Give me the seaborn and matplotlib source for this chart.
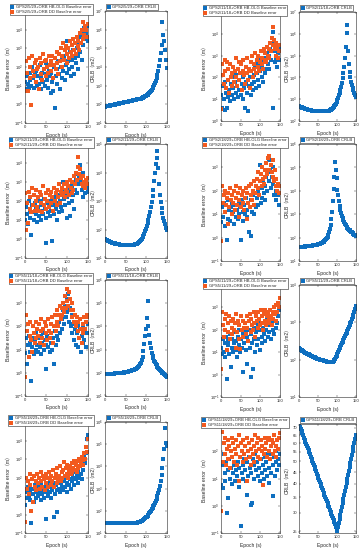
import numpy as np
import matplotlib
matplotlib.use('Agg')
import matplotlib.pyplot as plt
import seaborn as sns
from matplotlib.ticker import LogLocator, NullLocator, FixedLocator, FixedFormatter

# epochs (s), one value every 2 s
epochs = np.arange(1, 150, 2)

combos = ['GPS2/5/29', 'GPS2/11/18', 'GPS2/11/29', 'GPS2/18/29',
          'GPS5/11/18', 'GPS5/11/29', 'GPS5/18/29', 'GPS11/18/29']

# log10 of baseline error (m), HB-OLG and DD
p1_hb = [1.2, 0.8, 1.5, 1.1, 0.9, 1.7, 1.3, 1.0, 2.0, 1.4, 0.9, 1.6, 1.2, 1.8, 1.0,
         1.5, 1.1, 2.1, 0.8, 1.4, 1.7, 1.2, 1.9, 1.0, 1.6, 2.2, 1.3, 0.9, 1.8, 1.5,
         0.6, 1.7, 1.2, 0.7, 2.0, -0.2, 1.5, 1.9, 1.1, 2.3, 1.6, 0.8, 2.0, 1.4, 2.4,
         1.8, 2.6, 1.3, 2.1, 3.4, 1.7, 2.3, 1.9, 2.8, 1.5, 2.4, 2.0, 2.9, 1.6, 2.5,
         2.2, 3.0, 2.6, 1.9, 3.3, 2.8, 3.6, 2.4, 3.9, 3.2, 4.1, 3.5, 3.8, 4.2, 3.4]
p1_dd = [0.7, 2.3, 1.7, 0.7, 2.5, 1.4, 2.0, -0.05, 2.6, 1.8, 1.5, 2.2, 1.2, 2.4, 1.9,
         2.0, 0.8, 2.5, 1.6, 2.2, 1.3, 2.7, 1.9, 2.3, 1.5, 2.4, 2.0, 1.7, 2.6, 2.1,
         2.3, 1.8, 2.6, 1.4, 2.1, 2.5, 1.9, 2.8, 2.2, 1.6, 2.7, 2.3, 3.0, 2.0, 2.6,
         3.3, 2.4, 2.9, 3.1, 2.2, 2.7, 3.0, 2.5, 3.4, 2.8, 3.2, 2.6, 3.5, 2.9, 3.3,
         2.7, 3.6, 3.1, 3.4, 2.9, 3.8, 3.3, 4.0, 3.5, 4.4, 3.7, 4.2, 4.0, 3.6, 4.3]
p2_hb = [1.2, 0.6, 1.6, 1.0, 0.5, 1.8, 1.3, 0.6, 1.1, 1.9, 1.4, 0.9, 1.7, 1.2, 2.0,
         1.5, 1.0, 1.8, 1.3, 2.1, 1.6, 1.1, 1.9, 1.4, 2.2, 1.2, 1.7, 1.0, 2.0, 1.5,
         0.6, 1.8, 1.3, 2.2, 0.45, 1.6, 2.0, 1.2, 2.3, 1.7, 1.4, 2.1, 1.8, 2.5, 1.5,
         2.2, 1.9, 2.6, 1.6, 2.3, 2.8, 2.0, 2.5, 1.8, 2.9, 2.2, 2.7, 2.4, 3.1, 2.6,
         3.0, 2.4, 3.3, 2.8, 3.6, 0.6, 4.1, 3.2, 2.7, 3.4, 2.9, 2.5, 3.1, 2.8, 3.3]
p2_dd = [0.55, 2.6, 2.1, 1.7, 2.8, 2.3, 1.5, 2.7, 1.9, 2.4, 1.3, 2.6, 2.0, 2.2, 1.6,
         2.5, 1.8, 2.3, 2.9, 2.0, 1.6, 2.4, 2.7, 1.9, 2.2, 2.6, 1.4, 2.3, 2.8, 2.1,
         1.7, 2.5, 2.2, 2.9, 1.9, 2.4, 1.5, 2.7, 2.3, 3.0, 2.0, 2.6, 2.4, 3.1, 2.2,
         2.8, 2.5, 3.0, 2.3, 2.7, 3.2, 2.6, 2.9, 2.4, 3.3, 2.8, 3.1, 2.7, 3.4, 3.0,
         3.3, 2.9, 3.6, 3.2, 3.8, 3.5, 4.3, 3.7, 3.3, 3.6, 3.0, 3.4, 2.9, 3.2, 3.5]
p3_hb = [1.0, 1.7, 1.3, 0.8, 2.0, 1.5, 1.1, 0.2, 1.8, 1.4, 1.0, 1.9, 1.3, 1.6, 0.9,
         1.7, 1.2, 2.0, 1.5, 1.0, 1.8, 1.3, 2.1, 1.6, 1.1, -0.2, 1.9, 1.4, 1.7, 1.2,
         2.0, 1.5, -0.1, 1.8, 1.3, 2.2, 1.6, 1.0, 1.9, 2.3, 1.4, 2.0, 1.7, 2.5, 1.5,
         3.0, 2.1, 1.8, 2.4, 1.1, 2.2, 2.7, 1.9, 1.2, 2.5, 2.0, 2.8, 2.3, 1.6, 2.6,
         3.1, 2.4, 3.4, 2.9, 3.3, 3.9, 3.0, 2.6, 3.5, 2.2, 2.8, 2.4, 3.0, 2.7, 2.5]
p3_dd = [2.4, 0.5, 1.9, 0.85, 2.5, 1.6, 2.2, 1.4, 2.7, 1.8, 2.3, 1.5, 2.0, 2.6, 1.7,
         2.2, 1.5, 2.5, 1.9, 2.3, 1.4, 2.8, 1.8, 2.1, 2.4, 1.6, 2.0, 2.6, 1.7, 2.3,
         1.9, 2.5, 2.2, 1.5, 2.7, 2.0, 2.4, 1.8, 2.6, 2.2, 2.9, 1.9, 2.5, 2.3, 2.7,
         2.4, 2.9, 2.2, 2.6, 3.0, 2.5, 2.8, 2.3, 3.1, 2.7, 2.4, 3.0, 2.6, 3.3, 2.9,
         3.5, 3.1, 3.8, 4.3, 3.4, 3.7, 3.2, 2.9, 3.3, 2.8, 3.0, 2.7, 3.1, 2.9, 3.2]
p4_hb = [0.66, 1.3, 0.9, 1.5, 0.5, 1.1, 1.4, -0.12, 0.8, 1.6, 1.2, 0.7, 1.3, 1.0, 1.5,
         1.1, 0.6, 1.4, 0.9, 1.7, 1.2, 0.8, 1.5, 1.0, 1.3, -0.12, 1.6, 1.1, 0.7, 1.4,
         1.0, 1.7, 1.2, 0.9, 1.5, 0.22, 1.3, 0.07, 1.6, 1.1, 1.8, 1.4, 1.0, 1.9, 1.3,
         1.7, 2.0, 1.4, 1.8, 3.1, 1.5, 2.1, 1.7, 2.4, 1.9, 2.2, 1.6, 2.6, 2.0, 2.8,
         3.3, 2.4, 2.9, 2.1, 2.6, 3.0, 2.3, 1.8, 2.5, 2.0, 1.6, 2.2, 1.8, 1.4, 1.9]
p4_dd = [-0.15, 2.2, 1.5, 1.8, 1.1, 2.0, 1.4, 1.7, 0.6, 1.9, 1.3, 2.1, 1.6, 1.0, 1.8,
         1.5, 2.0, 1.2, 1.7, 2.2, 1.4, 1.9, 0.9, 1.6, 2.1, 1.3, 1.8, 1.5, 2.0, 1.2,
         1.7, 2.1, 0.8, 1.9, 1.5, 2.2, 1.3, 1.8, 2.3, 1.6, 2.0, 1.4, 2.4, 1.9, 2.2,
         2.5, 2.1, 2.8, 1.8, 2.4, 2.7, 2.2, 3.0, 2.5, 2.3, 2.9, 2.6, 3.2, 2.7, 3.4,
         2.9, 3.5, 4.0, 3.1, 2.8, 3.3, 2.6, 2.4, 2.9, 2.2, 2.5, 2.0, 2.3, 1.9, 2.2]
p5_hb = [0.84, 1.5, 0.39, 1.2, 1.6, 0.9, 1.3, -0.36, 1.1, 1.5, 0.8, 1.4, 1.0, 1.7, 1.2,
         0.9, 1.5, 1.1, 1.6, 0.8, 1.3, 1.7, 1.0, 1.4, 1.2, 0.16, 1.6, 1.1, 1.5, 0.9,
         1.3, 1.7, 1.0, 1.5, 0.39, 1.8, 1.2, 1.6, 2.0, 1.4, 2.2, 1.7, 2.5, 1.9, 2.3,
         2.7, 2.1, 2.9, 2.4, 3.2, 2.6, 3.4, 2.2, 2.8, 2.0, 2.5, 1.7, 2.1, 1.4, 1.9,
         1.2, 1.7, 2.0, 1.1, 1.5, 1.9, 0.9, 1.6, 1.3, 2.0, 1.4, 1.8, 1.1, 1.7, 2.1]
p5_dd = [-0.2, 2.5, 1.8, 2.1, 0.7, 1.6, 2.2, 1.4, 0.9, 2.0, 1.7, 1.3, 2.2, 1.5, 1.9,
         1.6, 2.1, 1.3, 1.8, 2.3, 1.5, 1.9, 1.2, 2.2, 1.7, 2.0, 1.4, 2.3, 1.8, 1.5,
         2.1, 1.7, 2.4, 1.3, 2.0, 2.5, 1.8, 2.2, 2.7, 2.0, 2.5, 2.9, 2.3, 2.8, 2.5,
         3.0, 2.6, 3.3, 2.8, 3.1, 3.6, 2.9, 3.5, 3.2, 2.7, 3.0, 2.4, 2.7, 2.2, 2.5,
         2.0, 2.4, 1.8, 2.2, 1.5, 2.3, 1.9, 1.3, 2.1, 1.7, 2.4, 1.9, 2.2, 2.5, 2.4]
p6_hb = [1.2, 0.94, 1.6, 1.0, 1.4, 0.8, 1.7, -0.18, 1.3, 1.5, 0.9, 1.8, 0.34, 1.2, 1.6,
         1.0, 1.4, 1.9, 1.1, 1.5, 0.8, 1.7, 1.3, 2.0, 1.0, 1.6, 1.2, 1.8, 0.12, 1.4,
         1.9, 1.1, 1.7, 0.49, 1.5, 2.0, 1.2, -0.1, 1.8, 1.4, 0.27, 2.1, 1.6, 1.0, 1.9,
         1.3, 2.2, 1.6, 2.0, 1.1, 2.3, 1.7, 1.4, 2.1, 1.8, 2.4, 1.5, 2.0, 2.5, 1.7,
         2.2, 1.9, 2.6, 1.6, 2.3, 2.0, 2.7, 1.8, 2.4, 2.1, 2.8, 2.3, 2.6, 2.9, 3.0]
p6_dd = [0.27, 2.8, 2.2, 1.7, 2.5, 2.0, 2.7, 1.09, 2.3, 1.9, 2.6, 1.6, 2.4, 2.1, 1.8,
         2.5, 2.0, 2.3, 1.2, 2.7, 1.9, 2.4, 1.6, 2.2, 1.16, 2.6, 2.0, 1.7, 2.4, 2.1,
         2.3, 1.8, 2.6, 2.1, 1.5, 2.4, 2.7, 1.9, 2.5, 2.2, 2.0, 2.8, 2.3, 1.7, 2.6,
         2.4, 2.1, 2.8, 2.5, 2.2, 2.9, 2.3, 2.6, 2.0, 2.7, 2.4, 2.9, 2.2, 2.6, 2.8,
         2.5, 2.3, 2.9, 2.6, 2.2, 2.8, 2.5, 3.0, 2.7, 2.4, 3.1, 2.8, 3.2, 3.0, 3.4]
p7_hb = [0.49, 1.2, 0.9, 1.5, 1.0, 1.3, 0.8, -0.47, 1.4, 1.1, 0.7, 1.6, 1.2, 0.9, 1.4,
         1.0, 1.5, 1.2, 0.8, 1.6, 1.1, 1.3, 0.9, 1.5, 1.2, -0.25, 1.4, 1.0, 1.7, 1.2,
         0.9, 1.5, 1.3, 1.7, -0.12, 1.1, 1.6, 1.3, 0.14, 1.8, 1.4, 1.2, 1.7, 1.5, 1.9,
         1.3, 1.8, 1.5, 2.0, 1.2, 1.7, 2.1, 1.6, 1.9, 1.4, 2.2, 1.8, 2.0, 1.6, 2.3,
         1.9, 2.1, 1.7, 2.4, 2.0, 2.6, 2.2, 1.9, 2.7, 2.4, 3.1, 2.8, 3.3, 4.1, 4.3]
p7_dd = [-0.39, 2.0, 1.4, 1.8, 1.1, 2.2, 1.6, 0.2, 1.9, 0.67, 2.1, 1.5, 1.8, 1.3, 2.2,
         1.7, 2.0, 1.4, 2.3, 1.8, 1.5, 2.1, 1.9, 1.3, 2.2, 1.7, 2.0, 1.5, 2.3, 1.9,
         1.6, 2.1, 1.8, 2.4, 1.5, 2.0, 2.2, 1.7, 2.5, 1.9, 2.1, 2.6, 1.8, 2.3, 2.0,
         2.4, 2.86, 2.1, 2.5, 2.2, 2.7, 2.0, 2.4, 2.6, 2.2, 2.8, 2.3, 2.5, 2.9, 2.4,
         2.7, 2.3, 2.9, 2.5, 3.0, 2.6, 2.8, 3.1, 2.7, 2.95, 3.3, 3.0, 3.65, 3.4, 4.1]
p8_hb = [0.77, 1.5, 0.65, 1.9, 1.2, 0.9, 1.6, -0.27, 1.3, 0.28, 1.7, 1.0, 1.4, 0.8, 1.8,
         1.2, 1.5, 0.9, 1.9, 1.3, 1.1, 1.6, 0.7, 1.4, 1.8, -0.76, 1.2, 1.5, 1.0, 1.7,
         1.3, 0.9, 0.4, 1.6, 1.1, 1.8, 1.4, 0.04, 1.2, 0.1, 1.7, 1.0, 1.5, 1.9, 1.3,
         1.6, 1.1, 1.8, 1.4, 0.9, 1.7, 1.2, 2.0, 1.5, 1.0, 1.8, 1.3, 1.6, 1.1, 1.9,
         0.83, 1.4, 1.7, 1.2, 1.9, 0.34, 1.5, 1.8, 1.1, 1.6, 2.0, 1.3, 1.7, 1.5, 1.9]
p8_dd = [-0.18, 2.72, 1.6, 2.3, 1.9, 2.5, 1.5, 2.1, 2.4, 1.7, 2.2, 1.4, 2.0, 2.5, 1.8,
         2.3, 1.6, 2.1, 2.4, 1.9, 1.5, 2.2, 2.6, 0.9, 1.8, 2.3, 2.0, 1.6, 2.4, 1.9,
         2.2, 1.7, 2.5, 0.9, 2.0, 2.3, 1.8, 1.5, 2.1, 2.4, 1.9, 2.2, 1.6, 2.6, 2.0,
         2.3, 1.8, 2.5, 2.1, 1.7, 2.4, 2.0, 2.2, 0.77, 1.9, 2.5, 2.1, 2.3, 1.8, 2.4,
         2.0, 2.5, 1.7, 2.2, 2.4, 1.9, 2.3, 2.6, 2.0, 2.2, 1.8, 2.4, 2.1, 2.5, 2.66]

# log10 of CRLB (m2)
p1_crlb = [1.88, 1.89, 1.90, 1.91, 1.92, 1.93, 1.94, 1.95, 1.96, 1.97, 1.98, 1.99, 2.00, 2.01, 2.02,
           2.03, 2.04, 2.05, 2.06, 2.07, 2.08, 2.09, 2.10, 2.11, 2.12, 2.13, 2.14, 2.15, 2.16, 2.17,
           2.18, 2.19, 2.20, 2.21, 2.22, 2.23, 2.24, 2.25, 2.26, 2.27, 2.28, 2.29, 2.30, 2.31, 2.33,
           2.35, 2.37, 2.39, 2.42, 2.45, 2.48, 2.52, 2.56, 2.61, 2.66, 2.72, 2.78, 2.85, 2.93, 3.01,
           3.12, 3.25, 3.40, 3.58, 3.80, 4.05, 4.35, 4.75, 5.20, 6.40, 5.70, 5.40, 4.90, 4.40, 3.95]
p2_crlb = [2.67, 2.65, 2.63, 2.62, 2.60, 2.59, 2.58, 2.56, 2.55, 2.54, 2.53, 2.52, 2.51, 2.50, 2.50,
           2.49, 2.48, 2.48, 2.47, 2.47, 2.46, 2.46, 2.45, 2.45, 2.45, 2.44, 2.44, 2.44, 2.44, 2.44,
           2.44, 2.44, 2.44, 2.44, 2.44, 2.45, 2.45, 2.46, 2.47, 2.48, 2.49, 2.51, 2.53, 2.55, 2.58,
           2.62, 2.67, 2.73, 2.80, 2.88, 2.97, 3.07, 3.18, 3.30, 3.43, 3.58, 3.75, 3.95, 4.20, 4.50,
           4.90, 5.40, 6.05, 6.40, 5.20, 4.60, 4.25, 4.00, 3.80, 3.65, 3.52, 3.40, 3.30, 3.20, 3.10]
p3_crlb = [1.66, 1.64, 1.62, 1.60, 1.59, 1.57, 1.56, 1.55, 1.54, 1.53, 1.52, 1.51, 1.50, 1.50, 1.49,
           1.49, 1.48, 1.48, 1.47, 1.47, 1.46, 1.46, 1.46, 1.45, 1.45, 1.45, 1.45, 1.45, 1.45, 1.45,
           1.45, 1.45, 1.45, 1.46, 1.46, 1.47, 1.48, 1.49, 1.50, 1.52, 1.54, 1.56, 1.59, 1.63, 1.67,
           1.72, 1.78, 1.85, 1.93, 2.02, 2.12, 2.23, 2.35, 2.48, 2.62, 2.78, 2.96, 3.16, 3.40, 3.70,
           4.00, 4.30, 4.50, 4.75, 4.15, 3.60, 3.20, 2.95, 2.75, 2.57, 2.42, 2.30, 2.18, 2.07, 1.97]
p4_crlb = [1.58, 1.58, 1.59, 1.59, 1.60, 1.60, 1.61, 1.61, 1.62, 1.62, 1.63, 1.63, 1.64, 1.64, 1.65,
           1.65, 1.66, 1.66, 1.67, 1.67, 1.68, 1.69, 1.69, 1.70, 1.71, 1.72, 1.73, 1.74, 1.75, 1.77,
           1.79, 1.81, 1.83, 1.86, 1.89, 1.93, 1.98, 2.04, 2.12, 2.22, 2.36, 2.54, 2.78, 3.10, 3.55,
           4.06, 4.60, 5.24, 4.90, 4.55, 4.05, 3.80, 3.55, 3.35, 3.18, 3.05, 2.93, 2.83, 2.74, 2.66,
           2.59, 2.53, 2.47, 2.42, 2.38, 2.34, 2.31, 2.28, 2.25, 2.22, 2.19, 2.16, 2.13, 2.10, 2.07]
p5_crlb = [1.93, 1.93, 1.94, 1.94, 1.94, 1.95, 1.95, 1.95, 1.96, 1.96, 1.96, 1.97, 1.97, 1.97, 1.98,
           1.98, 1.98, 1.99, 1.99, 2.00, 2.00, 2.01, 2.01, 2.02, 2.03, 2.03, 2.04, 2.05, 2.06, 2.07,
           2.08, 2.09, 2.10, 2.11, 2.12, 2.14, 2.16, 2.18, 2.20, 2.23, 2.27, 2.31, 2.37, 2.44, 2.55,
           2.70, 2.95, 3.25, 3.60, 3.90, 4.35, 5.10, 4.00, 3.65, 3.30, 3.05, 2.85, 2.72, 2.62, 2.53,
           2.46, 2.39, 2.33, 2.27, 2.22, 2.17, 2.13, 2.09, 2.05, 2.01, 1.97, 1.93, 1.89, 1.85, 1.80]
p6_crlb = [2.30, 2.28, 2.26, 2.25, 2.23, 2.22, 2.20, 2.19, 2.18, 2.17, 2.16, 2.15, 2.14, 2.13, 2.12,
           2.11, 2.10, 2.09, 2.08, 2.07, 2.06, 2.05, 2.04, 2.03, 2.03, 2.02, 2.01, 2.00, 2.00, 1.99,
           1.98, 1.98, 1.97, 1.97, 1.96, 1.96, 1.95, 1.95, 1.95, 1.94, 1.94, 1.94, 1.94, 1.94, 1.95,
           1.97, 2.00, 2.03, 2.07, 2.11, 2.15, 2.20, 2.25, 2.30, 2.34, 2.39, 2.44, 2.48, 2.53, 2.58,
           2.63, 2.68, 2.72, 2.77, 2.82, 2.87, 2.92, 2.97, 3.02, 3.08, 3.14, 3.20, 3.27, 3.35, 3.43]
p7_crlb = [1.45, 1.45, 1.45, 1.45, 1.45, 1.45, 1.45, 1.45, 1.45, 1.45, 1.45, 1.45, 1.45, 1.45, 1.45,
           1.45, 1.45, 1.45, 1.45, 1.45, 1.45, 1.45, 1.45, 1.45, 1.45, 1.45, 1.45, 1.45, 1.45, 1.45,
           1.45, 1.45, 1.45, 1.45, 1.45, 1.46, 1.46, 1.47, 1.47, 1.48, 1.49, 1.50, 1.51, 1.53, 1.55,
           1.57, 1.60, 1.63, 1.66, 1.70, 1.74, 1.78, 1.83, 1.88, 1.94, 2.00, 2.07, 2.14, 2.21, 2.28,
           2.36, 2.45, 2.55, 2.66, 2.79, 2.94, 3.12, 3.34, 3.60, 3.95, 4.35, 4.80, 5.75, 5.05, 4.90]
# this one is read directly in m2 (its axis is labelled 25 ... 70)
p8_crlb = [72.0, 70.5, 69.0, 67.6, 66.2, 64.8, 63.4, 62.1, 60.8, 59.5, 58.3, 57.1, 55.9, 54.7, 53.6,
           52.5, 51.4, 50.3, 49.3, 48.2, 47.2, 46.2, 45.3, 44.3, 43.4, 42.5, 41.6, 40.8, 39.9, 39.1,
           38.3, 37.5, 36.7, 35.9, 35.2, 34.4, 33.7, 33.0, 32.3, 31.7, 31.0, 30.4, 29.7, 29.1, 28.5,
           27.9, 27.3, 26.8, 26.2, 25.6, 25.1, 26.1, 27.2, 28.3, 29.4, 30.6, 31.9, 33.2, 34.5, 35.9,
           37.4, 38.9, 40.5, 42.1, 43.8, 45.6, 47.5, 49.4, 51.4, 53.5, 55.7, 57.9, 60.3, 62.7, 65.3]
p8_crlb_ticks = [25, 30, 35, 40, 45, 50, 55, 60, 65, 70]

hb_all = [p1_hb, p2_hb, p3_hb, p4_hb, p5_hb, p6_hb, p7_hb, p8_hb]
dd_all = [p1_dd, p2_dd, p3_dd, p4_dd, p5_dd, p6_dd, p7_dd, p8_dd]
crlb_all = [p1_crlb, p2_crlb, p3_crlb, p4_crlb, p5_crlb, p6_crlb, p7_crlb, p8_crlb]

sc_ylims = [(1e-1, 1e5), (1e0, 1e5), (1e-1, 1e5), (1e-1, 1e4),
            (1e-1, 1e4), (1e-1, 1e4), (1e-1, 1e5), (1e-1, 1e3)]
cr_ylims = [(1e1, 1e7), (1e2, 1e7), (1e1, 1e5), (1e1, 1e6),
            (1e1, 1e6), (1e1, 1e4), (1e1, 1e6), (24.6, 72.5)]

# layout in pixels: (top, bottom) per panel, x spans per column
rows_tb = [(11, 123), (12, 121), (144, 258), (144, 261),
           (280, 396), (285, 397), (422, 533), (424, 533)]
sc_x = [(25, 88), (221, 280)]
cr_x = [(105, 167), (299, 356)]
leg_cx = [51, 245]

blue = '#0E6FC0'
orange = '#F25A1F'
W, H = 364, 550

sns.set_style('white')
plt.rcParams['font.family'] = ['Liberation Sans', 'Noto Sans CJK SC', 'DejaVu Sans']

fig = plt.figure(figsize=(W / 100, H / 100), dpi=100)


def fbox(l, t, r, b):
    return [l / W, 1 - b / H, (r - l) / W, (b - t) / H]


def style(ax, ylim, t, b):
    ax.set_yscale('log')
    ax.set_xlim(0, 150)
    ax.set_ylim(*ylim)
    ax.set_xticks([0, 50, 100, 150])
    ax.yaxis.set_major_locator(LogLocator(base=10, numticks=20))
    ax.yaxis.set_minor_locator(NullLocator())
    ax.tick_params(direction='in', bottom=True, left=True, top=True, right=True,
                   length=1.5, width=0.3, labelsize=3.0, pad=1.2, colors='#262626')
    for s in ax.spines.values():
        s.set_linewidth(0.4)
        s.set_color('#262626')
    ax.set_xlabel('Epoch (s)', fontsize=3.6)
    ax.xaxis.set_label_coords(0.5, -9.5 / (b - t))


def legend(ax, loc, x, y):
    leg = ax.legend(loc=loc, bbox_to_anchor=(x / W, 1 - y / H), bbox_transform=fig.transFigure,
                    fontsize=3, frameon=True, fancybox=False, edgecolor='#262626', framealpha=1,
                    borderpad=0.3, labelspacing=0.1, handlelength=0.8, handletextpad=0.4,
                    borderaxespad=0, markerscale=1.2)
    leg.get_frame().set_linewidth(0.4)


for i, name in enumerate(combos):
    col = i % 2
    t, b = rows_tb[i]

    # baseline error scatter
    ax1 = fig.add_axes(fbox(sc_x[col][0], t, sc_x[col][1], b))
    sns.scatterplot(x=epochs, y=10 ** np.array(hb_all[i]), color=blue, marker='s', s=5,
                    linewidth=0, label=name + '+ORB HB-OLG Baseline error', ax=ax1)
    sns.scatterplot(x=epochs, y=10 ** np.array(dd_all[i]), color=orange, marker='s', s=5,
                    linewidth=0, label=name + '+ORB DD Baseline error', ax=ax1)
    style(ax1, sc_ylims[i], t, b)
    ax1.set_ylabel('Baseline error（m）', fontsize=3.6)
    ax1.yaxis.set_label_coords(-14 / (sc_x[col][1] - sc_x[col][0]), 0.5)
    legend(ax1, 'lower center', leg_cx[col], t + 4)

    # CRLB
    ax2 = fig.add_axes(fbox(cr_x[col][0], t, cr_x[col][1], b))
    if i == 7:
        cr = np.array(crlb_all[i])
    else:
        cr = 10 ** np.array(crlb_all[i])
    sns.scatterplot(x=epochs, y=cr, color=blue, marker='s', s=5, linewidth=0,
                    label=name + '+ORB CRLB', ax=ax2)
    style(ax2, cr_ylims[i], t, b)
    if i == 7:
        ax2.yaxis.set_major_locator(FixedLocator(p8_crlb_ticks))
        ax2.yaxis.set_major_formatter(FixedFormatter([str(v) for v in p8_crlb_ticks]))
        ax2.yaxis.set_minor_locator(NullLocator())
    ax2.set_ylabel('CRLB（m2）', fontsize=3.6)
    ax2.yaxis.set_label_coords(-10 / (cr_x[col][1] - cr_x[col][0]), 0.5)
    legend(ax2, 'lower left', cr_x[col][0] + 1, t - 1)

fig.savefig('out.png', dpi=100)
